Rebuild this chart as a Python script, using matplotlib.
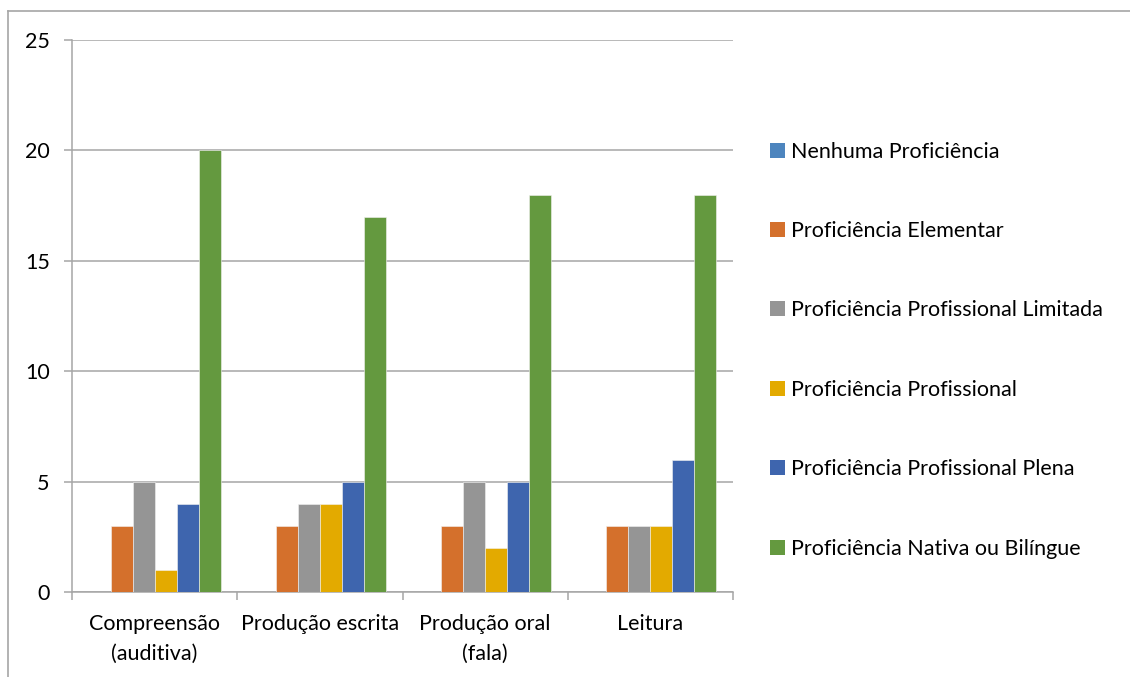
import matplotlib
matplotlib.use("Agg")
import matplotlib.pyplot as plt
import numpy as np
from matplotlib.lines import Line2D
from matplotlib.patches import Patch

plt.rcParams['font.family'] = ['Lato', 'DejaVu Sans']

categories = ["Compreensão\n(auditiva)", "Produção escrita", "Produção oral\n(fala)", "Leitura"]
series_names = [
    "Nenhuma Proficiência",
    "Proficiência Elementar",
    "Proficiência Profissional Limitada",
    "Proficiência Profissional",
    "Proficiência Profissional Plena",
    "Proficiência Nativa ou Bilíngue",
]
nenhuma = [0, 0, 0, 0]
elementar = [3, 3, 3, 3]
limitada = [5, 4, 5, 3]
profissional = [1, 4, 2, 3]
plena = [4, 5, 5, 6]
nativa = [20, 17, 18, 18]
y_ticks = [0, 5, 10, 15, 20, 25]

values = [nenhuma, elementar, limitada, profissional, plena, nativa]
colors = ["#4D85BE", "#D4702C", "#959595", "#E3AA00", "#3E65AE", "#64993F"]

FS = 15.5
W, H = 1130, 677
fig = plt.figure(figsize=(W / 100, H / 100), dpi=100)
ax = fig.add_axes([72 / W, 1 - 592 / H, (733 - 72) / W, (592 - 40) / H])

n = len(series_names)
gap = 1.5
bw = 1.0 / (n + gap)
x = np.arange(len(categories))
for i, (vals, c) in enumerate(zip(values, colors)):
    offs = (i - (n - 1) / 2) * bw
    ax.bar(x + offs, vals, width=bw, color=c, edgecolor="#f2f2f2", linewidth=0.4, zorder=3)

ax.set_xlim(-0.5, len(categories) - 0.5)
ax.set_ylim(0, 25)
ax.set_yticks(y_ticks)
ax.yaxis.grid(True, color="#A6A6A6", linewidth=1.1, zorder=0)
ax.set_axisbelow(True)

for s in ["top", "right"]:
    ax.spines[s].set_visible(False)
for s in ["left", "bottom"]:
    ax.spines[s].set_color("#A6A6A6")
    ax.spines[s].set_linewidth(1.1)

ax.tick_params(axis="y", length=6, width=1.1, color="#A6A6A6", pad=10, labelsize=FS, labelcolor="#000000")
ax.set_xticks(x)
ax.set_xticklabels(categories, fontsize=FS, linespacing=1.62)
ax.tick_params(axis="x", which="major", length=0, pad=16)
ax.set_xticks(np.arange(-0.5, len(categories)), minor=True)
ax.tick_params(axis="x", which="minor", length=6, width=1.1, color="#A6A6A6", direction="out")
for lbl in ax.get_xticklabels():
    lbl.set_verticalalignment("top")

handles = [Patch(facecolor=c, edgecolor="none") for c in colors]
leg = fig.legend(handles, series_names, loc="upper left",
                 bbox_to_anchor=(761 / W, 1 - 133 / H), frameon=False,
                 fontsize=FS, handlelength=0.7, handleheight=0.7,
                 handletextpad=0.3, labelspacing=2.76, borderaxespad=0)

# outer frame
fig.add_artist(Line2D([8 / W, 1.0], [1 - 11 / H, 1 - 11 / H], color="#A6A6A6", linewidth=1.2))
fig.add_artist(Line2D([8 / W, 8 / W], [0, 1 - 11 / H], color="#A6A6A6", linewidth=1.2))

fig.savefig("out.png", dpi=100)
